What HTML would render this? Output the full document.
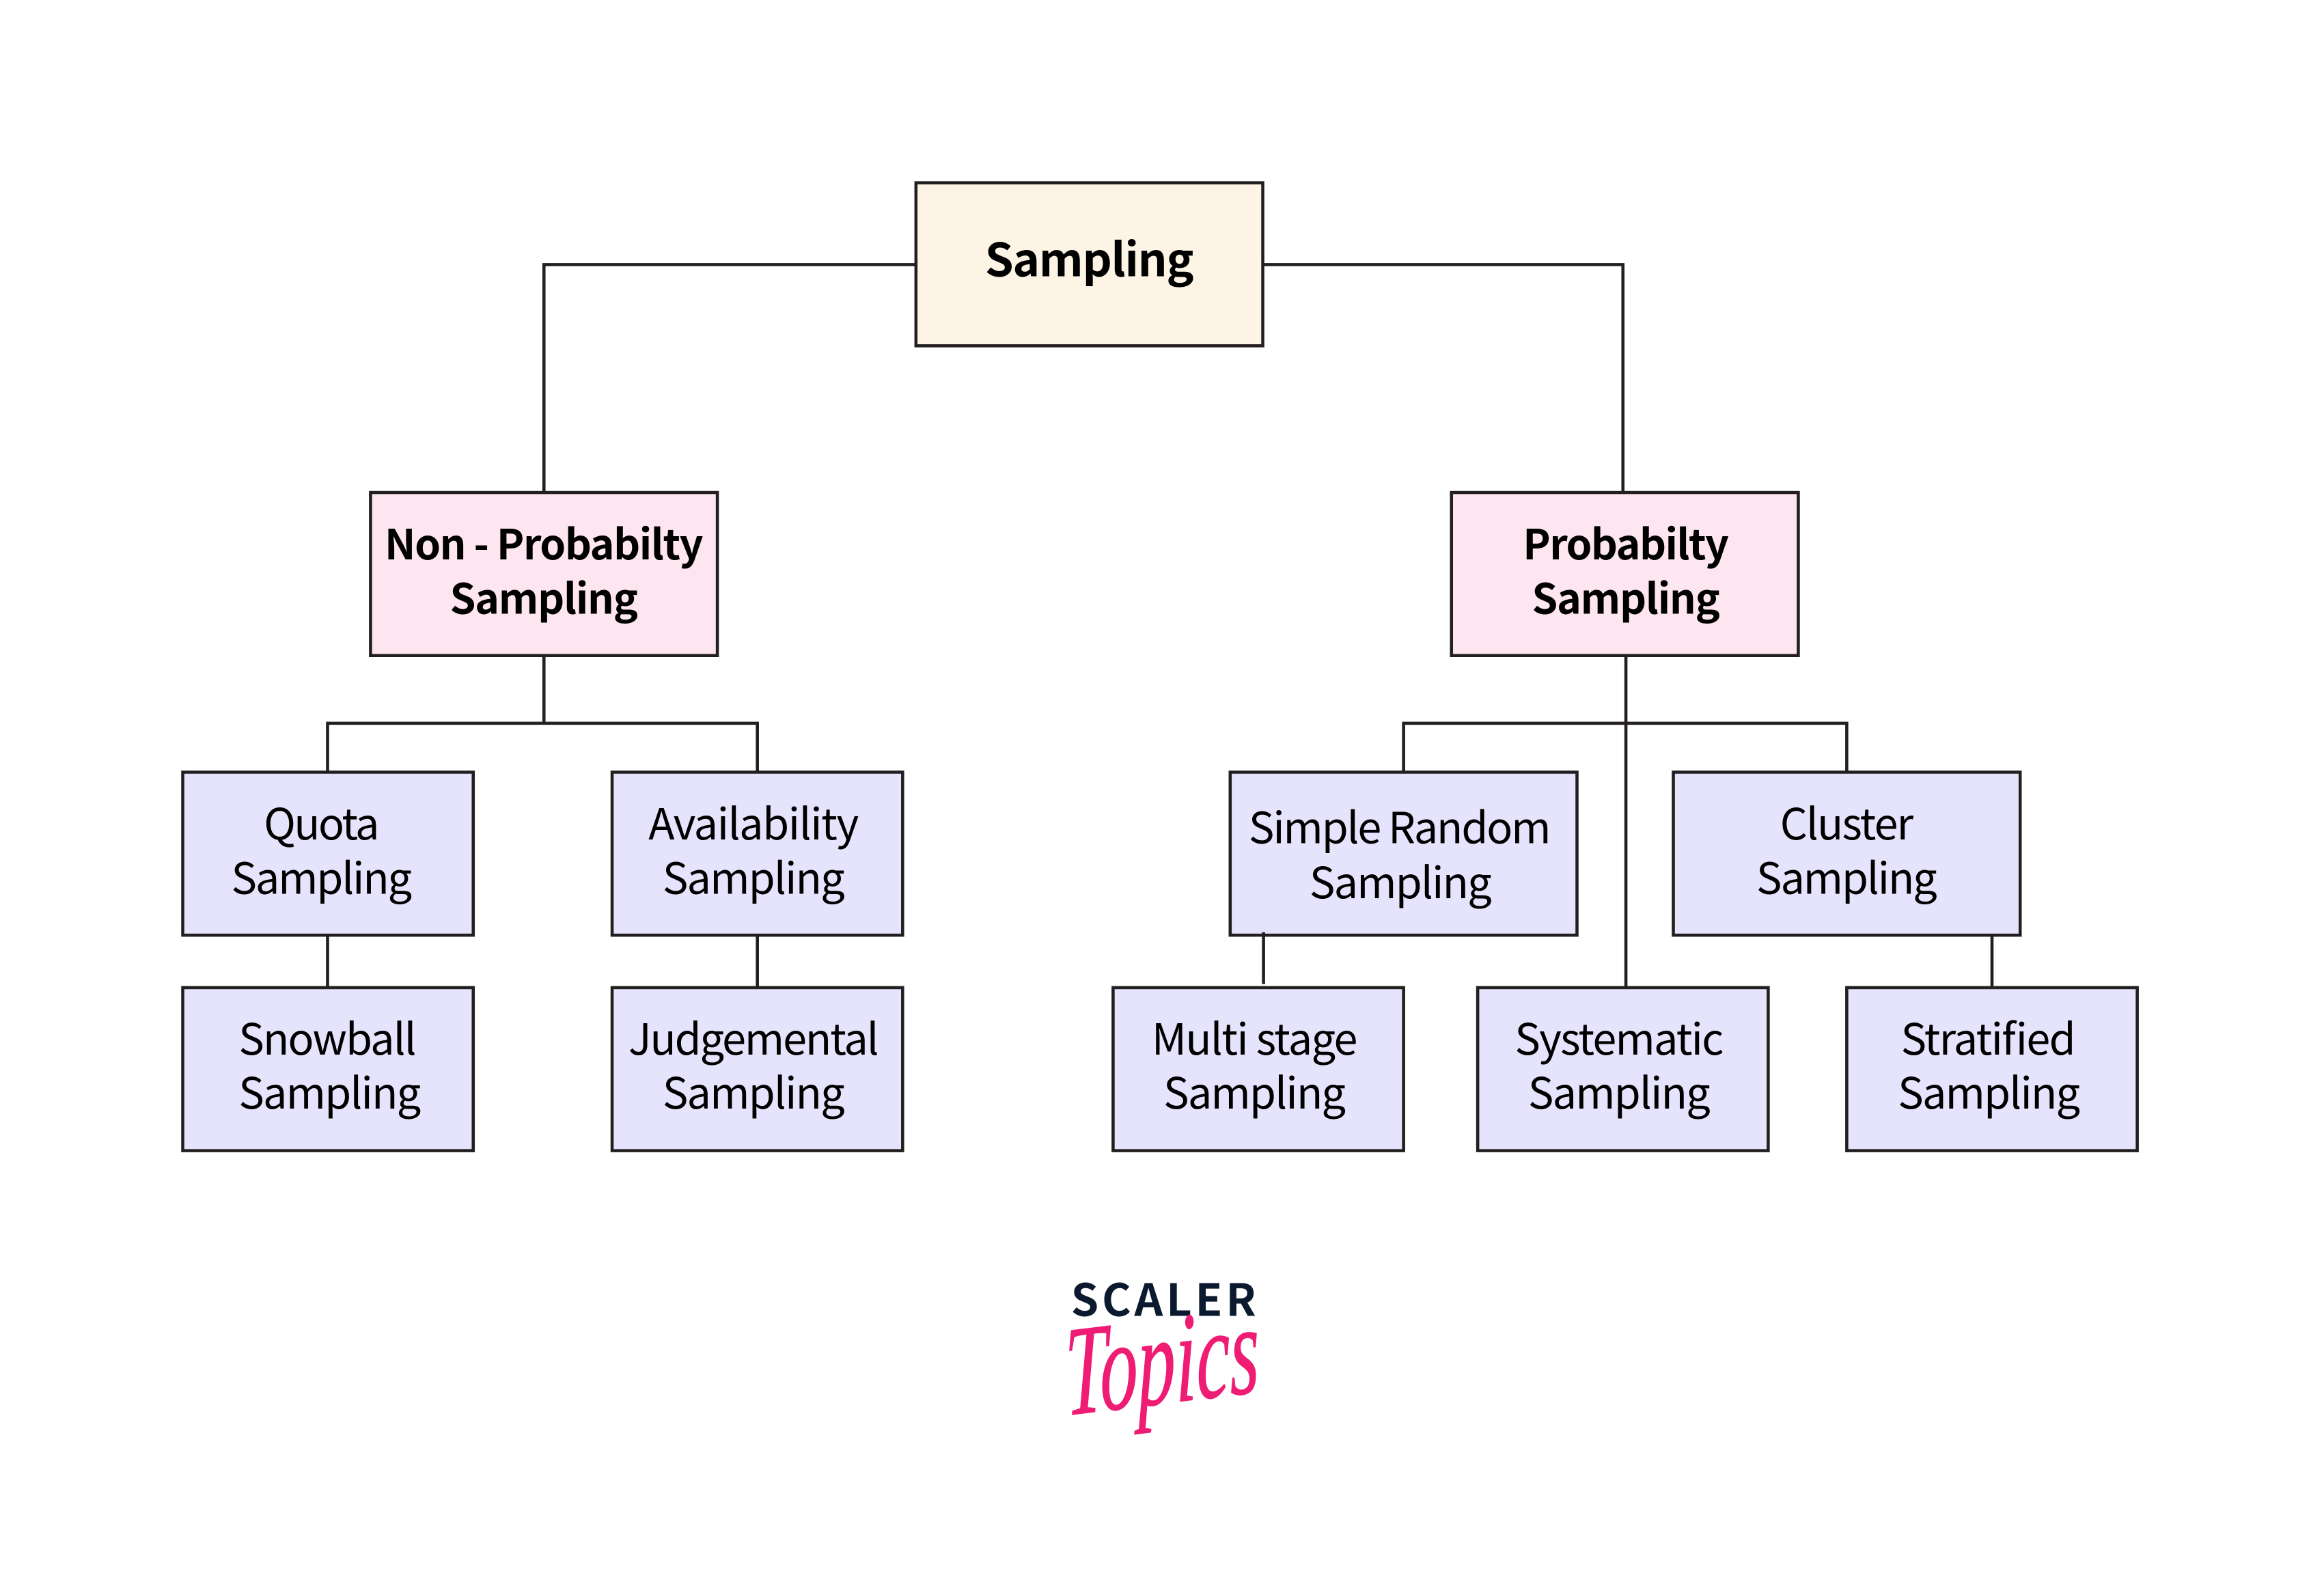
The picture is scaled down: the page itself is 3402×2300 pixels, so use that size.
<!DOCTYPE html>
<html><head><meta charset="utf-8"><style>
html,body{margin:0;padding:0;background:#fff}
svg{display:block}
text{font-family:"Noto Sans CJK SC","Liberation Sans",sans-serif;fill:#000;font-size:29px}
.b{font-size:28px;font-weight:700}
.r{fill:#e6e4fc;stroke:#231f20;stroke-width:2.1}
.l{fill:none;stroke:#231f20;stroke-width:2.1}
</style></head><body>
<svg width="3402" height="2300" viewBox="0 0 1568 1060" xmlns="http://www.w3.org/2000/svg">
<path class="l" d="M618 178.5H367V332M852 178.5H1095V332M367 442V488M221 521V488H511V521M1097 442V666M947 521V488H1246V521M221 631V666M511 631V666M1344 631V666"/>
<rect class="r" style="fill:#fef4e6" x="618" y="123.3" width="234" height="110"/>
<rect class="r" style="fill:#fee6f1" x="250" y="332.3" width="234" height="110"/>
<rect class="r" style="fill:#fee6f1" x="979.3" y="332.3" width="234" height="110"/>
<rect class="r" x="123.3" y="521" width="196" height="110"/>
<rect class="r" x="413" y="521" width="196" height="110"/>
<rect class="r" x="830" y="521" width="234" height="110"/>
<rect class="r" x="1129" y="521" width="234" height="110"/>
<rect class="r" x="123.3" y="666.4" width="196" height="110"/>
<rect class="r" x="413" y="666.4" width="196" height="110"/>
<rect class="r" x="751" y="666.4" width="196" height="110"/>
<rect class="r" x="997" y="666.4" width="196" height="110"/>
<rect class="r" x="1246" y="666.4" width="196" height="110"/>
<path class="l" d="M852.5 629V664"/>
<text class="b" style="font-size:31px" x="664.5" y="186.5" textLength="141">Sampling</text>
<text class="b" x="259.5" y="377.5" textLength="215">Non - Probabilty</text>
<text class="b" x="303.5" y="414" textLength="127">Sampling</text>
<text class="b" x="1027.5" y="377.5" textLength="139">Probabilty</text>
<text class="b" x="1033.5" y="414" textLength="127">Sampling</text>
<text x="178" y="566.5" textLength="78">Quota</text>
<text x="156" y="603" textLength="122">Sampling</text>
<text x="437.5" y="566.5" textLength="142">Availability</text>
<text x="447" y="603" textLength="123">Sampling</text>
<text x="842.5" y="569" textLength="204">Simple Random</text>
<text x="883.5" y="606" textLength="123">Sampling</text>
<text x="1201" y="566.5" textLength="90">Cluster</text>
<text x="1185" y="603" textLength="122">Sampling</text>
<text x="161" y="711.5" textLength="120">Snowball</text>
<text x="161" y="748" textLength="123">Sampling</text>
<text x="424" y="711.5" textLength="169">Judgemental</text>
<text x="447" y="748" textLength="123">Sampling</text>
<text x="777" y="711.5" textLength="139">Multi stage</text>
<text x="785" y="748" textLength="123">Sampling</text>
<text x="1022" y="711.5" textLength="141">Systematic</text>
<text x="1031" y="748" textLength="123">Sampling</text>
<text x="1282.5" y="711.5" textLength="118">Stratified</text>
<text x="1280.5" y="748" textLength="123">Sampling</text>
<text style="font-weight:700;font-size:30px;fill:#0b1a2e" x="722.5" y="888" textLength="125">SCALER</text>
<text transform="translate(719 955) rotate(-7) skewX(-6)" style="font-family:'Liberation Serif',serif;font-style:italic;font-size:86px;fill:#ef1c74;stroke:#ef1c74;stroke-width:.6" textLength="132" lengthAdjust="spacingAndGlyphs">Topics</text>
</svg>
</body></html>
